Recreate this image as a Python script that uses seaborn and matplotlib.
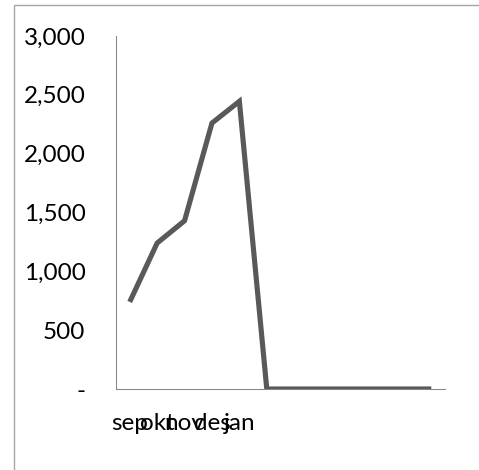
import matplotlib
matplotlib.use("Agg")
import matplotlib.pyplot as plt
import matplotlib.patches as mpatches
import seaborn as sns
import pandas as pd

# -----------------------------
# Data
# -----------------------------
months = ["sep", "okt", "nov", "des", "jan", "feb", "mar", "apr", "mai", "jun", "jul", "aug"]
tick_labels = ["sep", "okt", "nov", "des", "jan", "", "", "", "", "", "", ""]
values = [740, 1240, 1430, 2260, 2445, 0, 0, 0, 0, 0, 0, 0]
y_ticks = [0, 500, 1000, 1500, 2000, 2500, 3000]
y_tick_labels = ["-", "500", "1,000", "1,500", "2,000", "2,500", "3,000"]

df = pd.DataFrame({"idx": range(len(months)), "month": months, "value": values})

# -----------------------------
# Style
# -----------------------------
sns.set_style("white")
plt.rcParams["font.family"] = ["Lato", "DejaVu Sans"]

fig = plt.figure(figsize=(4.79, 4.70), dpi=100)
ax = fig.add_axes([116 / 479, 81 / 470, 329 / 479, 353 / 470])

sns.lineplot(data=df, x="idx", y="value", ax=ax, color="#595959",
             linewidth=3.7, solid_capstyle="butt", solid_joinstyle="miter")

ax.set_xlim(-0.5, len(months) - 0.5)
ax.set_ylim(0, 3000)
ax.set_xticks(range(len(months)))
ax.set_xticklabels(tick_labels, fontsize=17.5, color="#000000")
ax.set_yticks(y_ticks)
ax.set_yticklabels(y_tick_labels, fontsize=17.5, color="#000000")
ax.tick_params(axis="both", length=0)
ax.tick_params(axis="y", pad=22)
ax.tick_params(axis="x", pad=17)
ax.set_xlabel("")
ax.set_ylabel("")

for side in ["top", "right"]:
    ax.spines[side].set_visible(False)
for side in ["left", "bottom"]:
    ax.spines[side].set_color("#868686")
    ax.spines[side].set_linewidth(0.75)

# outer chart border (only left and top visible in the crop)
fig.patches.append(mpatches.Rectangle((14 / 479, -0.1), 1.2, 0.1 + 465 / 470,
                                      transform=fig.transFigure, fill=False,
                                      edgecolor="#a6a6a6", linewidth=1.0))

fig.savefig("out.png", dpi=100)
